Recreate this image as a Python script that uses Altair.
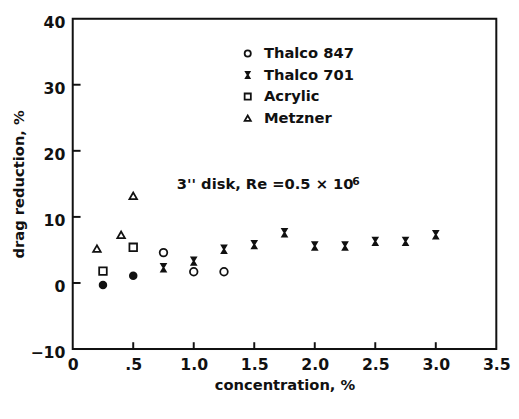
import altair as alt
import pandas as pd

# --- data ---
series = ["Thalco 847", "Thalco 701", "Acrylic", "Metzner"]

t847_x = [0.75, 1.0, 1.25]
t847_y = [4.6, 1.7, 1.7]
t847_fill_x = [0.25, 0.5]
t847_fill_y = [-0.3, 1.1]

t701_x = [0.75, 1.0, 1.25, 1.5, 1.75, 2.0, 2.25, 2.5, 2.75, 3.0]
t701_y = [2.3, 3.3, 5.1, 5.8, 7.6, 5.6, 5.6, 6.3, 6.3, 7.3]

acr_x = [0.25, 0.5]
acr_y = [1.8, 5.4]

met_x = [0.2, 0.4, 0.5]
met_y = [5.2, 7.3, 13.2]

x_ticks = [0.5, 1.0, 1.5, 2.0, 2.5, 3.0]
y_ticks = [0, 10, 20, 30]
x_labels = [0, 0.5, 1.0, 1.5, 2.0, 2.5, 3.0, 3.5]
y_labels = [-10, 0, 10, 20, 30, 40]
frame_x = [0, 3.5]
frame_y = [-10, 40]

note_main = "3'' disk, Re =0.5 \u00d7 10"
note_sup = "6"

FONT = "DejaVu Sans"
INK = "#111111"
W, H = 432, 337

rows = []
for n, xs, ys in [("Thalco 847", t847_x, t847_y), ("Thalco 701", t701_x, t701_y),
                  ("Acrylic", acr_x, acr_y), ("Metzner", met_x, met_y)]:
    for a, b in zip(xs, ys):
        rows.append({"series": n, "x": a, "y": b})
df = pd.DataFrame(rows)
df_fill = pd.DataFrame({"x": t847_fill_x, "y": t847_fill_y})

xscale = alt.Scale(domain=[0, 3.5], nice=False, zero=False)
yscale = alt.Scale(domain=[-10, 40], nice=False, zero=False)

hourglass = "M-0.6,-1L0.6,-1L-0.6,1L0.6,1Z"

legend = alt.Legend(
    orient="none", legendX=171, legendY=28, title=None, padding=0,
    labelFont=FONT, labelFontSize=15, labelFontWeight="bold", labelColor=INK,
    symbolStrokeWidth=1.8, symbolSize=40,
    rowPadding=6, labelOffset=9,
)

x_axis = alt.Axis(values=x_labels, grid=False, ticks=False, domain=False,
                  labelExpr="datum.value == 0 ? '0' : datum.value == 0.5 ? '.5' : format(datum.value, '.1f')",
                  labelFont=FONT, labelFontSize=16, labelFontWeight="bold", labelColor=INK,
                  labelPadding=8, title="concentration, %", titleFont=FONT, titleFontSize=15,
                  titleFontWeight="bold", titleColor=INK, titlePadding=5, labelFlush=False)
y_axis = alt.Axis(values=y_labels, grid=False, ticks=False, domain=False,
                  labelFont=FONT, labelFontSize=16, labelFontWeight="bold", labelColor=INK,
                  labelPadding=8, labelOffset=4, title="drag reduction, %", titleFont=FONT,
                  titleFontSize=15, titleFontWeight="bold", titleColor=INK, titlePadding=4,
                  labelFlush=False)

pts = alt.Chart(df).mark_point(filled=False, strokeWidth=1.8, opacity=1, size=60).encode(
    x=alt.X("x:Q", scale=xscale, axis=x_axis),
    y=alt.Y("y:Q", scale=yscale, axis=y_axis),
    shape=alt.Shape("series:N", scale=alt.Scale(domain=series,
                    range=["circle", hourglass, "square", "triangle-up"]), legend=legend),
    fill=alt.Fill("series:N", scale=alt.Scale(domain=series,
                  range=["transparent", INK, "transparent", "transparent"]), legend=legend),
    stroke=alt.Stroke("series:N", scale=alt.Scale(domain=series,
                      range=[INK, INK, INK, INK]), legend=legend),
)

filled = alt.Chart(df_fill).mark_circle(size=75, color=INK, opacity=1).encode(
    x=alt.X("x:Q", scale=xscale), y=alt.Y("y:Q", scale=yscale))

xt = alt.Chart(pd.DataFrame({"tx": x_ticks})).mark_rule(color=INK, strokeWidth=2).encode(
    x=alt.X("tx:Q", scale=xscale), y=alt.value(H), y2=alt.value(H - 7))
yt = alt.Chart(pd.DataFrame({"ty": y_ticks})).mark_rule(color=INK, strokeWidth=2).encode(
    y=alt.Y("ty:Q", scale=yscale), x=alt.value(0), x2=alt.value(8))

frame = alt.Chart(pd.DataFrame({"fx": [frame_x[0]], "fx2": [frame_x[1]],
                                "fy": [frame_y[0]], "fy2": [frame_y[1]]})).mark_rect(
    fill="transparent", stroke=INK, strokeWidth=2
).encode(x=alt.X("fx:Q", scale=xscale), x2="fx2:Q",
         y=alt.Y("fy:Q", scale=yscale), y2="fy2:Q")

note = alt.Chart(pd.DataFrame({"x": [0.86], "y": [14.2], "t": [note_main]})).mark_text(
    align="left", baseline="alphabetic", font=FONT, fontSize=15, fontWeight="bold", color=INK
).encode(x=alt.X("x:Q", scale=xscale), y=alt.Y("y:Q", scale=yscale), text="t:N")
sup = alt.Chart(pd.DataFrame({"x": [2.31], "y": [14.9], "t": [note_sup]})).mark_text(
    align="left", baseline="alphabetic", font=FONT, fontSize=11, fontWeight="bold", color=INK
).encode(x=alt.X("x:Q", scale=xscale), y=alt.Y("y:Q", scale=yscale), text="t:N")

chart = alt.layer(pts, filled, note, sup, frame, xt, yt).properties(
    width=W, height=H,
    padding={"left": 3, "top": 3, "right": 0, "bottom": 0}
)

chart.save("out.html", embed_options={"renderer": "svg", "actions": False})
